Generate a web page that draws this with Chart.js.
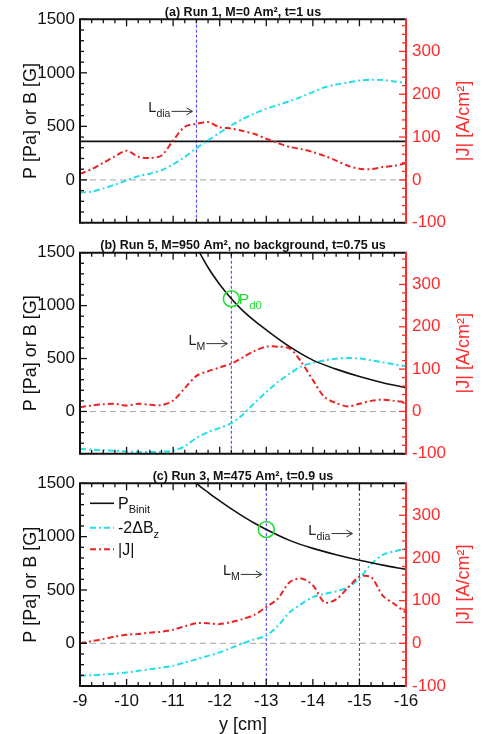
<!DOCTYPE html>
<html>
<head>
<meta charset="utf-8">
<script src="https://cdn.jsdelivr.net/npm/chart.js@4.4.1/dist/chart.umd.min.js"></script>
<style>
  html, body { margin: 0; padding: 0; background: #fff; }
  #wrap { position: relative; width: 483px; height: 734px; overflow: hidden; background: #fff; }
  #wrap canvas { position: absolute; left: 0; }
</style>
</head>
<body>
<div id="wrap">
  <canvas id="panelA" width="483" height="240" style="top:0px"></canvas>
  <canvas id="panelB" width="483" height="240" style="top:230px"></canvas>
  <canvas id="panelC" width="483" height="274" style="top:460px"></canvas>
</div>
<script>
// ---- positions along y [cm] where the profiles are sampled ----
const Y_CM = [-9, -9.25, -9.5, -9.75, -10, -10.25, -10.5, -10.75, -11, -11.25, -11.5, -11.75,
              -12, -12.25, -12.5, -12.75, -13, -13.25, -13.5, -13.75, -14, -14.25, -14.5, -14.75,
              -15, -15.25, -15.5, -15.75, -16];

// ---- Run 1 (M = 0) ----
const RUN1_DBZ = [-118, -110, -80, -45, -5, 35, 58, 90, 145, 215, 296, 370,
                  440, 510, 570, 620, 665, 700, 735, 775, 820, 865, 890, 910,
                  928, 935, 932, 920, 905];
const RUN1_J   = [14, 25, 40, 55, 68, 54, 51, 57, 92, 124, 131, 135,
                  123, 120, 114, 107, 96, 86, 77, 72, 65, 56, 45, 33,
                  26, 25, 30, 33, 39];
const RUN1_PB  = 360;              // uniform initial field pressure
const RUN1_LDIA = -11.5;

// ---- Run 5 (M = 950, no background) ----
const RUN5_DBZ = [-354, -360, -366, -372, -378, -382, -383, -380, -370, -329, -250, -196,
                  -155, -111, -28, 82, 183, 278, 357, 426, 458, 483, 499, 505,
                  500, 483, 464, 445, 426];
const RUN5_J   = [10, 14, 17, 18, 14, 18, 16, 15, 26, 55, 84, 95,
                  104, 113, 128, 143, 153, 153, 149, 117, 74, 34, 20, 12,
                  18, 25, 28, 25, 22];
const PB_Y_CM  = [-11.25, -11.5, -11.75, -12, -12.25, -12.5, -12.75, -13, -13.5, -14, -14.5, -15, -15.5, -16];
const RUN5_PB  = [1800, 1560, 1360, 1200, 1065, 950, 855, 770, 612, 485, 400, 330, 272, 225];
const RUN5_LM  = -12.25;
const RUN5_PD0 = 1065;

// ---- Run 3 (M = 475) ----
const RUN3_DBZ = [-304, -300, -292, -285, -273, -258, -243, -228, -210, -180, -150, -118,
                  -85, -42, 0, 38, 72, 165, 290, 368, 433, 463, 488, 525,
                  610, 740, 830, 862, 888];
const RUN3_J   = [0, 5, 10, 16, 20, 22, 25, 27, 32, 40, 47, 47,
                  45, 50, 57, 67, 85, 105, 143, 152, 136, 96, 103, 130,
                  156, 155, 112, 92, 72];
const RUN3_PB  = [1690, 1505, 1415, 1335, 1260, 1190, 1125, 1067, 965, 890, 830, 778, 733, 693];
const RUN3_LM  = -13;
const RUN3_LDIA = -15;
const RUN3_PD0 = 1067;

// ---- axes ----
const X_TICKS = [-9, -10, -11, -12, -13, -14, -15, -16];
const X_TICK_LABELS = ['-9', '-10', '-11', '-12', '-13', '-14', '-15', '-16'];
const P_TICKS = [0, 500, 1000, 1500];
const P_TICK_LABELS = ['0', '500', '1000', '1500'];
const J_TICKS = [-100, 0, 100, 200, 300];
const J_TICK_LABELS = ['-100', '0', '100', '200', '300'];

const FONT = '"Liberation Sans", Arial, Helvetica, sans-serif';
const INK = '#111111';
const AXIS_RED = '#ff2a2a';
const CYAN = '#22dfe6';
const RED = '#ea2426';
const BLUE = '#3a3aff';
const GREEN = '#22dd33';
const DASH_DOT = [6, 3, 2, 3];

const pts = (xs, ys) => xs.map((v, i) => ({ x: v, y: ys[i] }));
const flat = (v) => [{ x: -9, y: v }, { x: -16, y: v }];
const vline = (v) => [{ x: v, y: -400 }, { x: v, y: 1500 }];

function subText(ctx, main, sub, x, y, size, subSize, drop, color, align) {
  ctx.textAlign = 'left';
  ctx.textBaseline = 'alphabetic';
  ctx.font = size + 'px ' + FONT;
  const w1 = ctx.measureText(main).width;
  ctx.font = subSize + 'px ' + FONT;
  const w2 = ctx.measureText(sub).width;
  const x0 = align === 'right' ? x - w1 - w2 : x;
  ctx.fillStyle = color;
  ctx.font = size + 'px ' + FONT;
  ctx.fillText(main, x0, y);
  ctx.font = subSize + 'px ' + FONT;
  ctx.fillText(sub, x0 + w1, y + drop);
}

// frame, inward ticks, titles, arrows and legend drawn on top of the data
const panelDecor = {
  id: 'panelDecor',
  afterDatasetsDraw(chart, _args, o) {
    const { ctx, chartArea: a } = chart;
    const { x, y, y1 } = chart.scales;
    const seg = (x0, y0, x1, yy1) => { ctx.beginPath(); ctx.moveTo(x0, y0); ctx.lineTo(x1, yy1); ctx.stroke(); };
    ctx.save();
    ctx.setLineDash([]);

    // x ticks, top and bottom, every 0.25 cm
    ctx.strokeStyle = INK; ctx.lineWidth = 1.3;
    for (let k = 0; k <= 28; k++) {
      const px = x.getPixelForValue(-9 - k * 0.25);
      const len = k % 4 === 0 ? 7 : 4;
      seg(px, a.bottom, px, a.bottom - len);
      seg(px, a.top, px, a.top + len);
    }
    // left ticks, every 100
    for (let v = -400; v <= 1500; v += 100) {
      const py = y.getPixelForValue(v);
      seg(a.left, py, a.left + (v % 500 === 0 ? 7 : 4), py);
    }
    // right ticks, every 20
    ctx.strokeStyle = AXIS_RED;
    for (let v = -100; v <= 375; v += 20) {
      const py = y1.getPixelForValue(v);
      seg(a.right, py, a.right - (v % 100 === 0 ? 7 : 4), py);
    }
    // frame
    ctx.lineWidth = 2;
    ctx.strokeStyle = INK;
    seg(a.left - 1, a.top, a.right, a.top);
    seg(a.left - 1, a.bottom, a.right, a.bottom);
    seg(a.left, a.top, a.left, a.bottom);
    ctx.strokeStyle = AXIS_RED;
    seg(a.right, a.top - 1, a.right, a.bottom + 1);

    // panel title
    ctx.fillStyle = INK;
    ctx.font = 'bold 12.5px ' + FONT;
    ctx.textAlign = 'center';
    ctx.textBaseline = 'alphabetic';
    ctx.fillText(o.title, (a.left + a.right) / 2, a.top - 3.5);

    // axis titles
    const midY = (a.top + a.bottom) / 2;
    ctx.font = '18px ' + FONT;
    ctx.textBaseline = 'middle';
    ctx.save();
    ctx.translate(31, midY); ctx.rotate(-Math.PI / 2);
    ctx.fillStyle = INK; ctx.fillText('P [Pa] or B [G]', 0, 0);
    ctx.restore();
    ctx.save();
    ctx.translate(464, midY); ctx.rotate(-Math.PI / 2);
    ctx.fillStyle = AXIS_RED; ctx.fillText('|J| [A/cm²]', 0, 0);
    ctx.restore();
    if (o.xTitle) {
      ctx.fillStyle = INK;
      ctx.textAlign = 'center';
      ctx.textBaseline = 'alphabetic';
      ctx.fillText(o.xTitle, (a.left + a.right) / 2, a.bottom + 43.5);
    }

    // L markers with arrows pointing at the dashed lines
    ctx.strokeStyle = '#333'; ctx.lineWidth = 1;
    (o.marks || []).forEach(m => {
      const tip = x.getPixelForValue(m.at) - m.gap;
      const tail = tip - 21;
      const ay = y.getPixelForValue(m.level);
      seg(tail, ay, tip, ay);
      seg(tip, ay, tip - 6, ay - 3.5);
      seg(tip, ay, tip - 6, ay + 3.5);
      subText(ctx, m.main, m.sub, tail - 1, ay + 1, 14.5, 10.5, 5, '#222', 'right');
    });

    // P_d0 tag next to the green circle
    if (o.tag) {
      const tx = x.getPixelForValue(o.tag.x) + 7.5;
      const ty = y.getPixelForValue(o.tag.y) + 5;
      subText(ctx, o.tag.main, o.tag.sub, tx, ty, 15.5, 11.5, 5, GREEN, 'left');
    }

    // legend
    if (o.legend) {
      o.legend.forEach(e => {
        const ds = chart.data.datasets.find(d => d.label === e.label);
        const ly = a.top + e.dy;
        ctx.strokeStyle = ds.borderColor;
        ctx.lineWidth = ds.borderWidth;
        ctx.setLineDash(ds.borderDash || []);
        seg(a.left + 10, ly, a.left + 34, ly);
        ctx.setLineDash([]);
        subText(ctx, e.main, e.sub, a.left + 38, ly + 5.5, 16, 11, 4.5, INK, 'left');
      });
    }
    ctx.restore();
  }
};

function makePanel(id, cfg) {
  const tickFont = { family: FONT, size: 17 };
  return new Chart(document.getElementById(id), {
    type: 'line',
    data: { datasets: cfg.datasets },
    options: {
      responsive: false,
      animation: false,
      devicePixelRatio: 1,
      layout: { padding: { top: cfg.top, left: 0, right: 0, bottom: 0 } },
      elements: { point: { radius: 0 }, line: { borderCapStyle: 'butt' } },
      plugins: {
        legend: { display: false },
        tooltip: { enabled: false },
        title: { display: false },
        panelDecor: cfg.decor
      },
      scales: {
        x: {
          type: 'linear', min: -16, max: -9, reverse: true,
          grid: { display: false, drawTicks: false },
          border: { display: false },
          afterBuildTicks: s => { s.ticks = X_TICKS.map(v => ({ value: v })); },
          afterFit: s => { s.height = cfg.xHeight; },
          ticks: {
            display: cfg.showX, autoSkip: false, maxRotation: 0, padding: 5,
            font: tickFont, color: INK,
            callback: v => X_TICK_LABELS[X_TICKS.indexOf(v)]
          }
        },
        y: {
          position: 'left', min: -400, max: 1500,
          grid: { display: false, drawTicks: false },
          border: { display: false },
          afterBuildTicks: s => { s.ticks = P_TICKS.map(v => ({ value: v })); },
          afterFit: s => { s.width = 80; },
          ticks: {
            autoSkip: false, padding: 5, font: tickFont, color: INK,
            callback: v => P_TICK_LABELS[P_TICKS.indexOf(v)]
          }
        },
        y1: {
          position: 'right', min: -100, max: 375,
          grid: { display: false, drawTicks: false },
          border: { display: false },
          afterBuildTicks: s => { s.ticks = J_TICKS.map(v => ({ value: v })); },
          afterFit: s => { s.width = 77; },
          ticks: {
            autoSkip: false, padding: 6, font: tickFont, color: AXIS_RED,
            callback: v => J_TICK_LABELS[J_TICKS.indexOf(v)]
          }
        }
      }
    },
    plugins: [panelDecor]
  });
}

// common dataset builders
const jSet = (vals) => ({ label: '|J|', data: pts(Y_CM, vals), yAxisID: 'y1', borderColor: RED,
  borderWidth: 2, borderDash: DASH_DOT, tension: 0.3, fill: false });
const bzSet = (vals) => ({ label: '-2ΔB_z', data: pts(Y_CM, vals), yAxisID: 'y', borderColor: CYAN,
  borderWidth: 2, borderDash: DASH_DOT, tension: 0.3, fill: false });
const pbSet = (xs, vals) => ({ label: 'P_Binit', data: pts(xs, vals), yAxisID: 'y', borderColor: INK,
  borderWidth: 1.6, cubicInterpolationMode: 'monotone', fill: false });
const zeroSet = () => ({ label: 'zero', data: flat(0), yAxisID: 'y', borderColor: '#a8a8a8',
  borderWidth: 1, borderDash: [6, 4], fill: false });
const lineSet = (v) => ({ label: 'L', data: vline(v), yAxisID: 'y', borderColor: BLUE,
  borderWidth: 1, borderDash: [3, 2], fill: false });
const circleSet = (xv, yv) => ({ label: 'Pd0', data: [{ x: xv, y: yv }], yAxisID: 'y', showLine: false,
  pointRadius: 8, pointStyle: 'circle', pointBorderColor: GREEN, pointBackgroundColor: 'rgba(0,0,0,0)',
  pointBorderWidth: 1.6 });

makePanel('panelA', {
  top: 19.3, xHeight: 17.3, showX: false,
  datasets: [
    jSet(RUN1_J),
    bzSet(RUN1_DBZ),
    { label: 'P_Binit', data: flat(RUN1_PB), yAxisID: 'y', borderColor: INK, borderWidth: 1.8, fill: false },
    lineSet(RUN1_LDIA),
    zeroSet()
  ],
  decor: {
    title: '(a) Run 1, M=0 Am², t=1 us',
    marks: [{ main: 'L', sub: 'dia', at: RUN1_LDIA, level: 640, gap: 4 }]
  }
});

makePanel('panelB', {
  top: 22.7, xHeight: 16, showX: false,
  datasets: [
    circleSet(RUN5_LM, RUN5_PD0),
    pbSet(PB_Y_CM, RUN5_PB),
    jSet(RUN5_J),
    bzSet(RUN5_DBZ),
    lineSet(RUN5_LM),
    zeroSet()
  ],
  decor: {
    title: '(b) Run 5, M=950 Am², no background, t=0.75 us',
    marks: [{ main: 'L', sub: 'M', at: RUN5_LM, level: 641, gap: 4 }],
    tag: { main: 'P', sub: 'd0', x: RUN5_LM, y: RUN5_PD0 }
  }
});

makePanel('panelC', {
  top: 23.3, xHeight: 48, showX: true,
  datasets: [
    circleSet(RUN3_LM, RUN3_PD0),
    pbSet(PB_Y_CM, RUN3_PB),
    jSet(RUN3_J),
    bzSet(RUN3_DBZ),
    lineSet(RUN3_LM),
    lineSet(RUN3_LDIA),
    zeroSet()
  ],
  decor: {
    title: '(c) Run 3, M=475 Am², t=0.9 us',
    xTitle: 'y [cm]',
    marks: [
      { main: 'L', sub: 'M', at: RUN3_LM, level: 646, gap: 4.5 },
      { main: 'L', sub: 'dia', at: RUN3_LDIA, level: 1029, gap: 7 }
    ],
    legend: [
      { label: 'P_Binit', main: 'P', sub: 'Binit', dy: 20 },
      { label: '-2ΔB_z', main: '-2ΔB', sub: 'z', dy: 44.4 },
      { label: '|J|', main: '|J|', sub: '', dy: 66 }
    ]
  }
});
</script>
</body>
</html>
